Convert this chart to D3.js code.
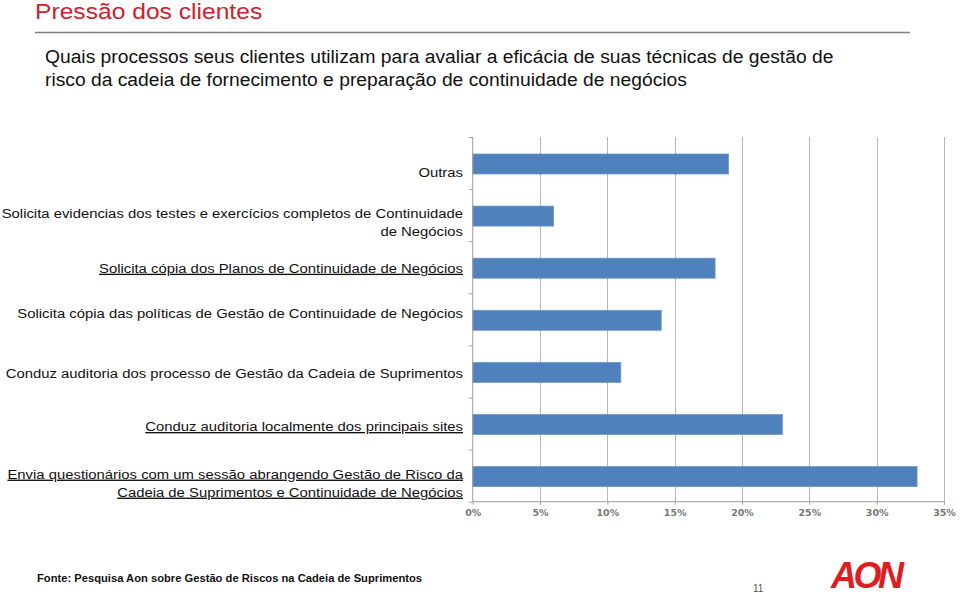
<!DOCTYPE html>
<html><head><meta charset="utf-8">
<script src="https://cdn.jsdelivr.net/npm/d3@7"></script>
<style>body{margin:0;background:#fff;} svg{display:block;font-family:"Liberation Sans",Arial,sans-serif;}</style>
</head><body>
<svg id="c" width="960" height="596"></svg>
<script>
const categories = [
  ["Outras"],
  ["Solicita evidencias dos testes e exercícios completos de Continuidade", "de Negócios"],
  ["Solicita cópia dos Planos de Continuidade de Negócios"],
  ["Solicita cópia das políticas de Gestão de Continuidade de Negócios"],
  ["Conduz auditoria dos processo de Gestão da Cadeia de Suprimentos"],
  ["Conduz auditoria localmente dos principais sites"],
  ["Envia questionários com um sessão abrangendo Gestão de Risco da", "Cadeia de Suprimentos e Continuidade de Negócios"]
];
const underlined = [false, false, true, false, false, true, true];
const values = [19, 6, 18, 14, 11, 23, 33];
const ticks = [0, 5, 10, 15, 20, 25, 30, 35];

// layout: label baseline offset (px) from band centre, as in the original slide
const labelDy = [14, 12, 5.5, -1.5, 7, 7.5, 12];

const svg = d3.select("#c");
// Header
svg.append("text").attr("transform", "translate(35,19) scale(1.12,1)").attr("fill", "#d0202e")
  .attr("font-size", 22).text("Pressão dos clientes");
svg.append("line").attr("x1", 35).attr("x2", 910).attr("y1", 32.5).attr("y2", 32.5)
  .attr("stroke", "#808080").attr("stroke-width", 1.5);
svg.append("text").attr("transform", "translate(45,63) scale(1.07,1)").attr("fill", "#111").attr("font-size", 18)
  .text("Quais processos seus clientes utilizam para avaliar a eficácia de suas técnicas de gestão de");
svg.append("text").attr("transform", "translate(45,86) scale(1.07,1)").attr("fill", "#111").attr("font-size", 18)
  .text("risco da cadeia de fornecimento e preparação de continuidade de negócios");

const x = d3.scaleLinear().domain([0, 35]).range([472.7, 944]);
const yb = d3.scaleBand().domain(d3.range(categories.length)).range([137, 501.7]);

// gridlines
svg.append("g").selectAll("line").data(ticks.slice(1)).join("line")
  .attr("x1", d => Math.round(x(d)) + 0.5).attr("x2", d => Math.round(x(d)) + 0.5)
  .attr("y1", 137).attr("y2", 501.7).attr("stroke", "#b8b8b8").attr("stroke-width", 1);

// bars
svg.append("g").selectAll("rect").data(values).join("rect")
  .attr("x", x(0)).attr("y", (d, i) => yb(i) + 17)
  .attr("width", d => x(d) - x(0)).attr("height", 20)
  .attr("fill", "#4f81bd").attr("stroke", "#6f97c8").attr("stroke-width", 0.8);

// axes
const xAxis = svg.append("g").attr("transform", "translate(0,501.7)")
  .call(d3.axisBottom(x).tickValues(ticks).tickSize(4).tickFormat(d => d + "%"));
xAxis.select(".domain").attr("stroke", "#a0a0a0").attr("d", `M${x(0)},0H${x(35)}`);
xAxis.selectAll(".tick line").attr("stroke", "#a0a0a0").attr("y1", 0).attr("y2", 3);
xAxis.selectAll(".tick text").attr("fill", "#777").attr("font-size", 9.5).attr("font-weight", "bold")
  .attr("font-family", "'DejaVu Sans',sans-serif").attr("dy", "0.2em").attr("y", 12);

const yAxis = svg.append("g").attr("transform", `translate(${x(0)},0)`)
  .call(d3.axisLeft(d3.scalePoint().domain(d3.range(categories.length + 1)).range([137, 501.7])).tickSize(4).tickFormat(""));
yAxis.select(".domain").attr("stroke", "#a0a0a0").attr("d", "M0,137V501.7");
yAxis.selectAll(".tick line").attr("stroke", "#a0a0a0");

// category labels
const lab = svg.append("g");
categories.forEach((lines, i) => {
  const cy = yb(i) + yb.bandwidth() / 2 + labelDy[i];
  const n = lines.length;
  lines.forEach((t, j) => {
    const ty = cy + (j - (n - 1) / 2) * 18;
    lab.append("text").attr("transform", `translate(463,${ty}) scale(1.1,1)`).attr("text-anchor", "end")
      .attr("font-size", 13.5).attr("fill", "#111")
      .attr("text-decoration", underlined[i] ? "underline" : null).text(t);
  });
});

// footer
svg.append("text").attr("x", 37).attr("y", 582).attr("font-size", 11.2).attr("font-weight", "bold")
  .attr("fill", "#111").text("Fonte: Pesquisa Aon sobre Gestão de Riscos na Cadeia de Suprimentos");
svg.append("text").attr("x", 753).attr("y", 592).attr("font-size", 10).attr("fill", "#555").text("11");
svg.append("text").attr("x", 831).attr("y", 588).attr("font-size", 36).attr("font-weight", "bold")
  .attr("font-style", "italic").attr("letter-spacing", -3.5).attr("fill", "#e11b22").text("AON");
</script>
</body></html>
